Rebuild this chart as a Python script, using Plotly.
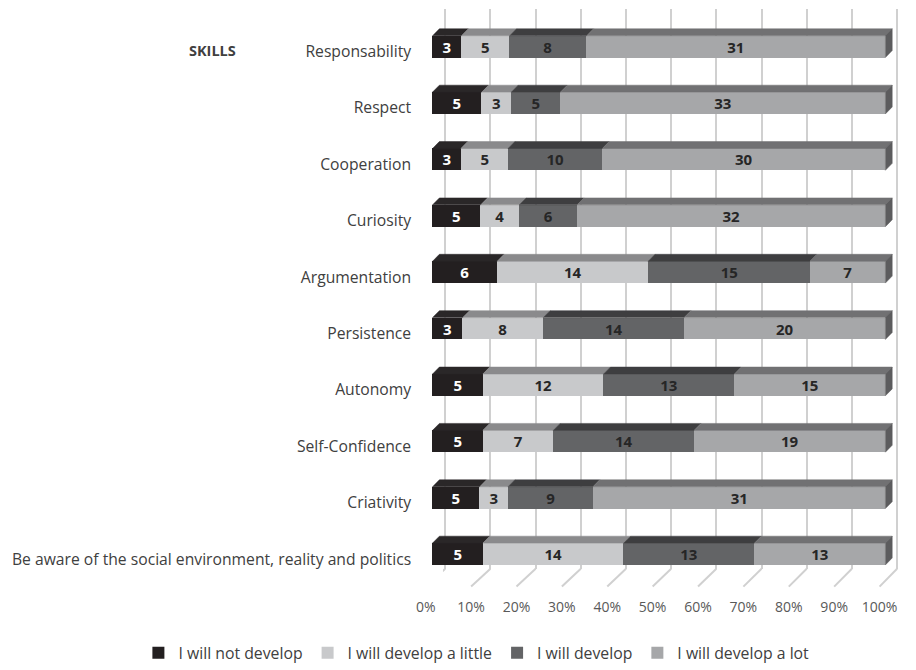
import plotly.graph_objects as go

# ---------------- data ----------------
categories = ["Responsability", "Respect", "Cooperation", "Curiosity", "Argumentation",
              "Persistence", "Autonomy", "Self-Confidence", "Criativity",
              "Be aware of the social environment, reality and politics"]
series_names = ["I will not develop", "I will develop a little", "I will develop", "I will develop a lot"]
not_develop = [3, 5, 3, 5, 6, 3, 5, 5, 5, 5]
develop_little = [5, 3, 5, 4, 14, 8, 12, 7, 3, 14]
develop = [8, 5, 10, 6, 15, 14, 13, 14, 9, 13]
develop_lot = [31, 33, 30, 32, 7, 20, 15, 19, 31, 13]
x_ticks = [0, 10, 20, 30, 40, 50, 60, 70, 80, 90, 100]
x_ticklabels = [f"{v}%" for v in x_ticks]

# ---------------- styles ----------------
W, H = 916, 670
FONT = "Open Sans"
front_colors = ["#231f20", "#c8c9cb", "#636466", "#a6a7a9"]
top_colors = ["#2a2728", "#8a8a8c", "#3e3e40", "#717173"]
side_color = "#5c5c5e"
text_colors = ["#ffffff", "#262626", "#262626", "#262626"]

def fx(px):
    return px / W

def fy(py):
    return 1 - py / H

row0_px, row_step = 47.0, 56.8
bar_h_px = 22.0
depth_dx_px, depth_dy_px = 7.0, 7.0
front0, front100 = 436.0, 901.0
back0, back100 = 449.0, 913.0
floor0, floor100 = 429.0, 895.0
grid_top, grid_bottom, floor_front = 9.0, 573.0, 591.0

s_front = (front100 - front0) / 100
s_back = (back100 - back0) / 100
s_floor = (floor100 - floor0) / 100

n = len(categories)
idx = list(range(n))
series = [not_develop, develop_little, develop, develop_lot]
totals = [sum(s[i] for s in series) for i in range(n)]
pcts = [[s[i] / totals[i] * 100 for i in range(n)] for s in series]

bar_w = bar_h_px / row_step
dxu = depth_dx_px / s_front
dyu = depth_dy_px / row_step

y_range = [(H - row0_px) / row_step, -row0_px / row_step]
lab_off = 5.0
y3_range = [(H - row0_px - lab_off) / row_step, -(row0_px + lab_off) / row_step]

fig = go.Figure()

# back-wall grid holder (subplot xy, drawn first so it sits behind the bars)
fig.add_trace(go.Scatter(x=[None], y=[None], xaxis="x", yaxis="y", showlegend=False, hoverinfo="skip"))

# front faces of the stacked bars
for k in range(4):
    fig.add_trace(go.Bar(
        y=idx, x=pcts[k], orientation="h", width=bar_w,
        name=series_names[k], marker=dict(color=front_colors[k], line=dict(width=0)),
        text=[str(v) for v in series[k]], textposition="inside", insidetextanchor="middle",
        textangle=0, constraintext="none",
        textfont=dict(family=FONT, size=15, color=text_colors[k], weight="bold"),
        xaxis="x2", yaxis="y2", hoverinfo="skip",
    ))

# top faces
cum = [0.0] * n
for k in range(4):
    xs, ys = [], []
    for i in range(n):
        x0 = cum[i]
        x1 = cum[i] + pcts[k][i]
        yt = i - bar_w / 2
        xs += [x0, x1, x1 + dxu, x0 + dxu, x0, None]
        ys += [yt, yt, yt - dyu, yt - dyu, yt, None]
        cum[i] = x1
    fig.add_trace(go.Scatter(x=xs, y=ys, mode="lines", fill="toself", fillcolor=top_colors[k],
                             line=dict(width=0.5, color=top_colors[k]), xaxis="x2", yaxis="y2",
                             showlegend=False, hoverinfo="skip"))

# right side faces
xs, ys = [], []
for i in range(n):
    xr = cum[i]
    yt = i - bar_w / 2
    yb = i + bar_w / 2
    xs += [xr, xr + dxu, xr + dxu, xr, xr, None]
    ys += [yt, yt - dyu, yb - dyu, yb, yt, None]
fig.add_trace(go.Scatter(x=xs, y=ys, mode="lines", fill="toself", fillcolor=side_color,
                         line=dict(width=0.5, color=side_color), xaxis="x2", yaxis="y2",
                         showlegend=False, hoverinfo="skip"))

# holders for label axes
fig.add_trace(go.Scatter(x=[None], y=[None], xaxis="x2", yaxis="y3", showlegend=False, hoverinfo="skip"))
fig.add_trace(go.Scatter(x=[None], y=[None], xaxis="x3", yaxis="y", showlegend=False, hoverinfo="skip"))

# floor lines
shapes = []
for v in x_ticks:
    back_px = back0 + s_back * v
    front_px = floor0 + s_floor * v
    shapes.append(dict(type="line", xref="x", yref="paper",
                       x0=v, y0=fy(grid_bottom),
                       x1=v + (front_px - back_px) / s_back, y1=fy(floor_front),
                       line=dict(color="#d0d0d0", width=2)))

fig.update_layout(
    width=W, height=H,
    margin=dict(l=0, r=0, t=0, b=0),
    paper_bgcolor="white", plot_bgcolor="rgba(0,0,0,0)",
    barmode="stack", bargap=0,
    font=dict(family=FONT, size=14, color="#404040"),
    shapes=shapes,
    xaxis=dict(domain=[fx(back0 - 0.5 * s_back), fx(back100 + 0.5 * s_back)], range=[-0.5, 100.5],
               anchor="y", tickvals=x_ticks, showticklabels=False, ticks="",
               showgrid=True, gridcolor="#d0d0d0", gridwidth=2, zeroline=False, showline=False,
               fixedrange=True),
    yaxis=dict(domain=[fy(grid_bottom), fy(grid_top)], range=[0, 1], anchor="x",
               showgrid=False, showticklabels=False, zeroline=False, ticks="", fixedrange=True),
    xaxis2=dict(domain=[fx(front0 - 0.5 * s_front), fx(front100 + 2 * s_front)], range=[-0.5, 102],
                anchor="y2", showgrid=False, showticklabels=False, zeroline=False, ticks="",
                showline=False, fixedrange=True),
    yaxis2=dict(domain=[0, 1], range=y_range, anchor="x2", showgrid=False, showticklabels=False,
                zeroline=False, ticks="", fixedrange=True),
    yaxis3=dict(domain=[0, 1], range=y3_range, anchor="free", position=fx(414), side="left",
                tickvals=idx, ticktext=categories, showgrid=False, zeroline=False, ticks="",
                showline=False, tickfont=dict(family=FONT, size=15.7, color="#404040"), fixedrange=True),
    xaxis3=dict(domain=[fx(floor0 - 0.5 * s_floor), fx(floor100 + 0.5 * s_floor)], range=[-0.5, 100.5],
                anchor="free", position=fy(601), tickvals=x_ticks, ticktext=x_ticklabels,
                showgrid=False, zeroline=False, ticks="", showline=False,
                tickfont=dict(family=FONT, size=14, color="#595959"), fixedrange=True),
    legend=dict(orientation="h", x=fx(481), xanchor="center", y=fy(658), yanchor="middle",
                font=dict(family=FONT, size=15.8, color="#404040"), traceorder="normal"),
    annotations=[dict(text="<b>SKILLS</b>", x=fx(210), y=fy(51), xref="paper", yref="paper",
                      showarrow=False, xanchor="center", yanchor="middle",
                      font=dict(family=FONT, size=14.5, color="#404040"))],
)

fig.write_html("out.html")
